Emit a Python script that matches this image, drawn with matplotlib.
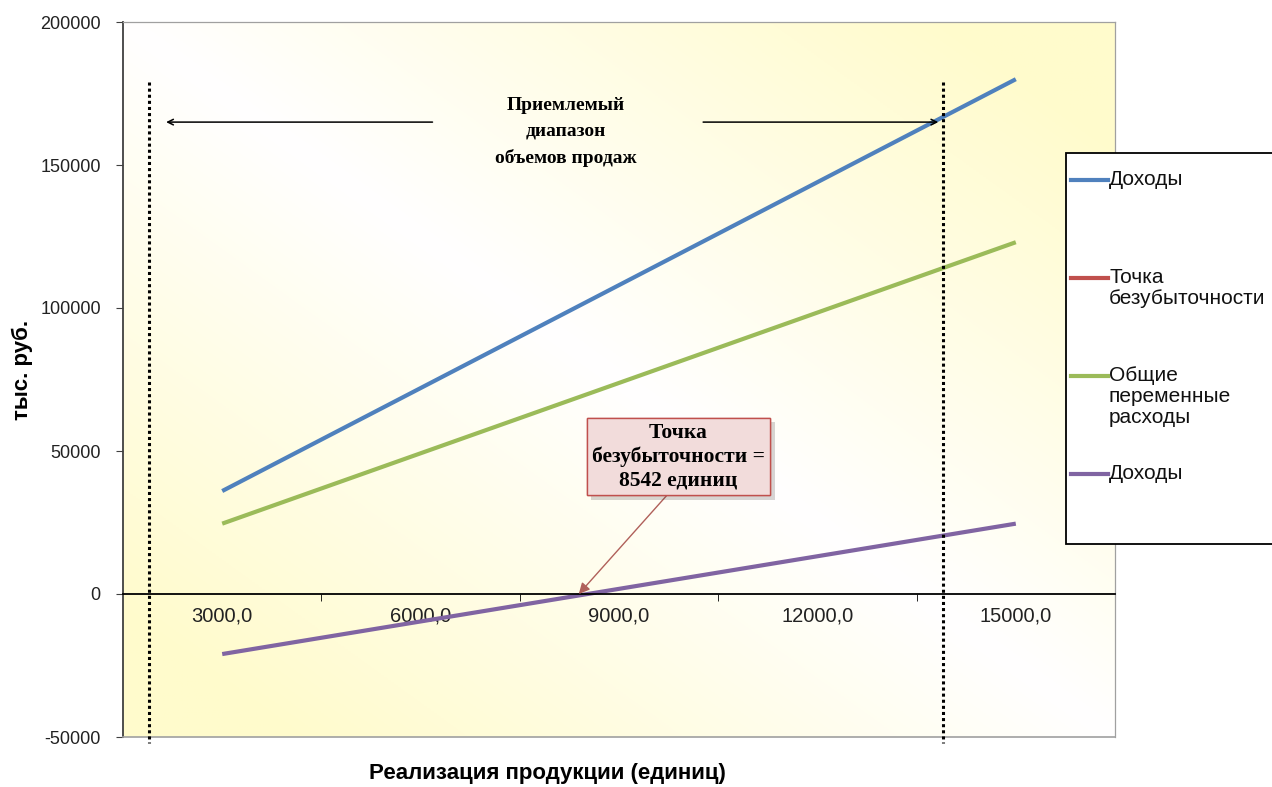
import numpy as np
import matplotlib
matplotlib.use("Agg")
import matplotlib.pyplot as plt
from matplotlib import patheffects
from matplotlib.patches import Rectangle
from matplotlib.lines import Line2D

# data
units = [3000, 6000, 9000, 12000, 15000]
unit_labels = ["3000,0", "6000,0", "9000,0", "12000,0", "15000,0"]
revenue = [36000, 72000, 108000, 144000, 180000]
breakeven_series = [np.nan] * 5
var_costs = [24600, 49200, 73800, 98400, 123000]
profit = [-21000, -9600, 1800, 13200, 24600]

series_names = ["Доходы", "Точка\nбезубыточности", "Общие\nпеременные\nрасходы", "Доходы"]
series_colors = ["#4F81BD", "#C0504D", "#9BBB59", "#8064A2"]

breakeven_units = 8542
range_lo, range_hi = 1900, 13900

W, H = 1272, 787
plt.rcParams['font.family'] = ['Liberation Sans', 'DejaVu Sans']
serif = ['Liberation Serif', 'DejaVu Serif']


def upos(u):
    # category axis: 3000 -> 0, step 3000 per category
    return (u - units[0]) / (units[1] - units[0])


def fx(px):
    return px / W


def fy(py):
    return 1 - py / H


fig = plt.figure(figsize=(W / 100, H / 100), dpi=100)
ax = fig.add_axes([fx(123), fy(737), fx(1115) - fx(123), fy(22) - fy(737)])

xs = np.arange(len(units))
ax.set_xlim(-0.5, len(units) - 0.5)
ax.set_ylim(-50000, 200000)

# gradient background
gu, gv = np.meshgrid(np.linspace(0, 1, 300), np.linspace(0, 1, 300))
s = np.clip(np.abs(gu - gv) * 1.2, 0, 1)
yel = np.array([1.0, 0.985, 0.80])
img = np.ones((300, 300, 3)) * (1 - s[..., None]) + yel * s[..., None]
ax.imshow(img, extent=(-0.5, len(units) - 0.5, -50000, 200000), origin='upper',
          aspect='auto', zorder=0)

all_series = [revenue, breakeven_series, var_costs, profit]
for vals, c, name in zip(all_series, series_colors, series_names):
    ax.plot(xs, vals, color=c, lw=3, solid_capstyle='butt', zorder=3, label=name)

# spines
for side in ['top', 'right']:
    ax.spines[side].set_color('#a0a0a0')
    ax.spines[side].set_linewidth(0.9)
ax.spines['left'].set_color('#404040')
ax.spines['left'].set_linewidth(1.3)
ax.spines['bottom'].set_position(('data', 0))
ax.spines['bottom'].set_color('black')
ax.spines['bottom'].set_linewidth(1.3)
ax.spines['bottom'].set_zorder(4)
ax.axhline(-50000, color='#a0a0a0', lw=1.2, clip_on=False, zorder=4)

ax.set_xticks(xs)
ax.set_xticklabels(unit_labels, fontsize=14.5, color='#222222')
ax.set_xticks(np.arange(0.5, len(units) - 1, 1), minor=True)
ax.tick_params(axis='x', which='major', length=0, pad=9)
ax.tick_params(axis='x', which='minor', length=5, direction='out', color='black')

ax.set_yticks(np.arange(-50000, 200001, 50000))
ax.set_yticklabels([str(v) for v in range(-50000, 200001, 50000)], fontsize=13, color='#222222')
ax.tick_params(axis='y', length=5, color='#404040', pad=11)

# acceptable range
for u in (range_lo, range_hi):
    ax.plot([upos(u), upos(u)], [179000, -52000], color='black', lw=2.2,
            ls=(0, (1, 1)), clip_on=False, zorder=5)
ax.annotate('', xy=(upos(range_lo) + 0.07, 165000), xytext=(1.074, 165000),
            arrowprops=dict(arrowstyle='->', color='black', lw=1.1), zorder=5)
ax.annotate('', xy=(upos(range_hi) - 0.01, 165000), xytext=(2.41, 165000),
            arrowprops=dict(arrowstyle='->', color='black', lw=1.1), zorder=5)
ax.text(1.73, 161500, "Приемлемый\nдиапазон\nобъемов продаж", family=serif,
        fontweight='bold', fontsize=14, ha='center', va='center',
        linespacing=1.65, zorder=5)

# break-even callout
ann = ax.annotate("Точка\nбезубыточности =\n" + str(breakeven_units) + " единиц",
                  xy=(upos(breakeven_units) - 0.05, 0), xytext=(2.30, 48000),
                  family=serif, fontweight='bold', fontsize=15.5,
                  ha='center', va='center', linespacing=1.2, zorder=6,
                  bbox=dict(boxstyle='square,pad=0.25', fc='#F2DCDB', ec='#C0504D', lw=1),
                  arrowprops=dict(arrowstyle='-|>', color='#B0605A', lw=1,
                                  mutation_scale=16, relpos=(0.46, 0),
                                  shrinkA=0, shrinkB=0))
ann.get_bbox_patch().set_path_effects([
    patheffects.withSimplePatchShadow(offset=(3, -3), alpha=0.22),
    patheffects.Normal()])

# axis titles
fig.text(fx(22), fy(370), "тыс. руб.", rotation=90, fontsize=16, fontweight='bold',
         ha='center', va='center')
fig.text(fx(547), fy(773), "Реализация продукции (единиц)", fontsize=16,
         fontweight='bold', ha='center', va='center')

# legend box (clipped by the figure edge as in the source)
fig.add_artist(Rectangle((fx(1066), fy(544)), fx(1300) - fx(1066), fy(153) - fy(544),
                         transform=fig.transFigure, fc='white', ec='black', lw=1.3))
leg_y = [180, 278, 376, 474]
for name, c, yy in zip(series_names, series_colors, leg_y):
    fig.add_artist(Line2D([fx(1071), fx(1108)], [fy(yy), fy(yy)],
                          transform=fig.transFigure, color=c, lw=3))
    fig.text(fx(1109), fy(yy - 10), name, fontsize=15, ha='left', va='top',
             linespacing=1.15, color='#111111')

fig.savefig("out.png", dpi=100)
